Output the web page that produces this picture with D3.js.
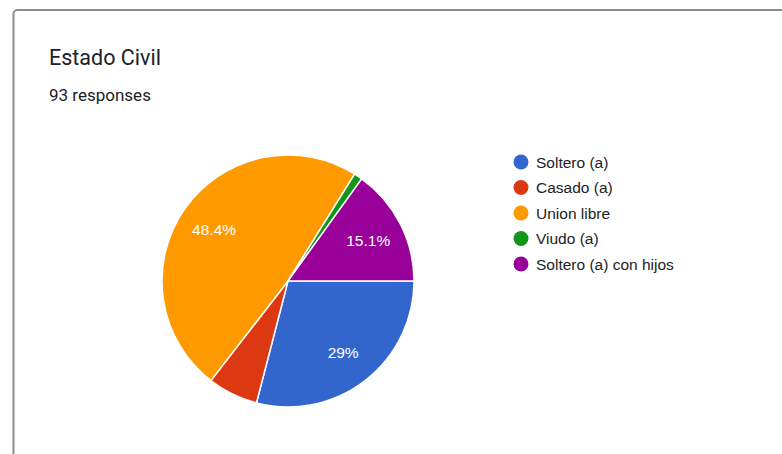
<!DOCTYPE html>
<html>
<head>
<meta charset="utf-8">
<script src="https://cdn.jsdelivr.net/npm/d3@7"></script>
<style>
html,body{margin:0;padding:0;background:#fff;overflow:hidden;}
</style>
</head>
<body>
<svg id="chart" width="782" height="454"></svg>
<script>
const categories = ["Soltero (a)", "Casado (a)", "Union libre", "Viudo (a)", "Soltero (a) con hijos"];
const counts = [27, 6, 45, 1, 14];
const colors = ["#3366cc", "#dc3912", "#ff9900", "#109618", "#990099"];
const sliceLabels = ["29%", "", "48.4%", "", "15.1%"];
const title = "Estado Civil";
const subtitle = "93 responses";

const svg = d3.select("#chart");

// card frame
svg.append("rect")
  .attr("x", 13.5).attr("y", 10)
  .attr("width", 820).attr("height", 500)
  .attr("rx", 4)
  .attr("fill", "#fff")
  .attr("stroke", "#8c8c8c")
  .attr("stroke-width", 2);

svg.append("text")
  .attr("x", 49).attr("y", 65)
  .attr("font-family", "Roboto, 'Noto Sans', sans-serif")
  .attr("font-size", 21.5)
  .attr("fill", "#202124")
  .text(title);

svg.append("text")
  .attr("x", 49).attr("y", 101)
  .attr("font-family", "Roboto, 'Noto Sans', sans-serif")
  .attr("font-size", 17)
  .attr("fill", "#202124")
  .text(subtitle);

const cx = 288, cy = 281, r = 126;
const data = categories.map((c, i) => ({cat: c, value: counts[i], color: colors[i], label: sliceLabels[i]}));

const pie = d3.pie().sort(null).value(d => d.value)
  .startAngle(Math.PI / 2).endAngle(Math.PI / 2 + 2 * Math.PI);
const arcs = pie(data);
const arc = d3.arc().innerRadius(0).outerRadius(r);
const labelArc = d3.arc().innerRadius(r * 0.715).outerRadius(r * 0.715);

const g = svg.append("g").attr("transform", `translate(${cx},${cy})`);
g.selectAll("path").data(arcs).enter().append("path")
  .attr("d", arc)
  .attr("fill", d => d.data.color)
  .attr("stroke", "#fff")
  .attr("stroke-width", 1.5)
  .attr("stroke-linejoin", "round");

g.selectAll("text.lbl").data(arcs.filter(d => d.data.label)).enter().append("text")
  .attr("class", "lbl")
  .attr("transform", d => `translate(${labelArc.centroid(d)})`)
  .attr("text-anchor", "middle")
  .attr("dy", "0.36em")
  .attr("font-family", "'Liberation Sans', Arial, sans-serif")
  .attr("font-size", 15.5)
  .attr("fill", "#fff")
  .text(d => d.data.label);

// legend
const legend = svg.append("g").attr("transform", "translate(521,162)");
const items = legend.selectAll("g").data(data).enter().append("g")
  .attr("transform", (d, i) => `translate(0,${i * 25.5})`);
items.append("circle").attr("r", 7.5).attr("fill", d => d.color);
items.append("text")
  .attr("x", 15).attr("dy", "0.36em")
  .attr("font-family", "'Liberation Sans', Arial, sans-serif")
  .attr("font-size", 15.5)
  .attr("fill", "#222")
  .text(d => d.cat);
</script>
</body>
</html>
